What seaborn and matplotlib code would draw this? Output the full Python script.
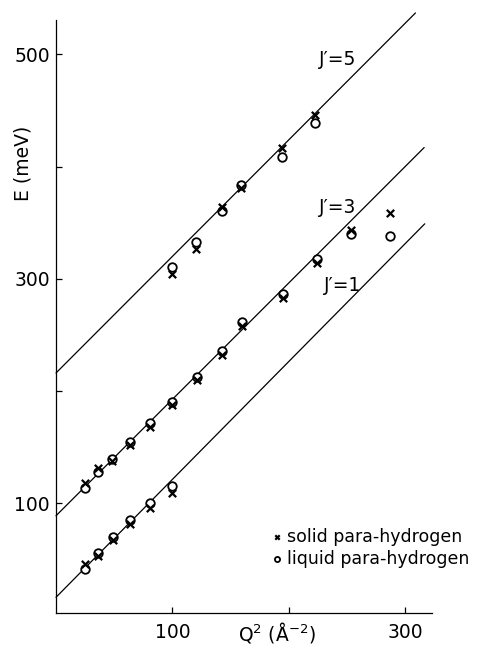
import matplotlib
matplotlib.use("Agg")
import matplotlib.pyplot as plt
import pandas as pd
import seaborn as sns

# Q^2 (A^-2) and E (meV)
q2_j1 = [25, 36, 49, 64, 81, 100]
e_j1_solid = [45.8, 52.5, 66.8, 81.6, 95.6, 109.4]
e_j1_liquid = [41.6, 55.6, 69.8, 85.2, 100.0, 115.4]

q2_j3 = [25, 36, 48.5, 63.5, 81, 100, 121, 143, 159.5, 195, 224, 254, 287]
e_j3_solid = [117.8, 131, 137.8, 151.8, 168, 187.4, 209.6, 232.4, 257.6, 282.8, 313.9, 343.6, 358.3]
e_j3_liquid = [113.3, 128, 139, 154.8, 171, 190, 212.5, 235.7, 261.4, 286.7, 317.2, 340, 338.5]

q2_j5 = [100, 120, 143, 159, 194, 223]
e_j5_solid = [304.4, 326.7, 363.6, 380.9, 416.4, 446]
e_j5_liquid = [310.3, 332.5, 360, 383.6, 408.7, 439.2]

# straight reference lines (end points)
line_q2 = {"1": [0, 317], "3": [0, 316.5], "5": [0, 309]}
line_e = {"1": [16, 349], "3": [88.7, 417], "5": [216, 537]}
label_pos = {"1": (246, 294), "3": (242.5, 363.6), "5": (242.5, 495.6)}

frames = []
for lvl, q, es, el in [("1", q2_j1, e_j1_solid, e_j1_liquid),
                       ("3", q2_j3, e_j3_solid, e_j3_liquid),
                       ("5", q2_j5, e_j5_solid, e_j5_liquid)]:
    frames.append(pd.DataFrame({"Q2": q, "E": es, "phase": "solid para-hydrogen", "J": lvl}))
    frames.append(pd.DataFrame({"Q2": q, "E": el, "phase": "liquid para-hydrogen", "J": lvl}))
df = pd.concat(frames, ignore_index=True)

sns.set_style("ticks", {"axes.edgecolor": "black", "text.color": "black",
                        "axes.labelcolor": "black", "xtick.color": "black",
                        "ytick.color": "black"})
plt.rcParams["font.family"] = ["DejaVu Sans"]
plt.rcParams["mathtext.fontset"] = "dejavusans"

fig = plt.figure(figsize=(4.87, 6.45), dpi=100)
ax = fig.add_axes([0.115, 0.0496, 0.7715, 0.919])

for lvl in ["1", "3", "5"]:
    sns.lineplot(x=line_q2[lvl], y=line_e[lvl], ax=ax, color="black", lw=0.9,
                 clip_on=False, zorder=1)
    ax.text(*label_pos[lvl], f"J\u2032=" + lvl, fontsize=13.5, ha="center", va="center")

liq = df[df["phase"] == "liquid para-hydrogen"]
sol = df[df["phase"] == "solid para-hydrogen"]
sns.scatterplot(data=liq, x="Q2", y="E", ax=ax, marker="o", s=38, facecolor="white",
                edgecolor="black", linewidth=1.3, label="liquid para-hydrogen", zorder=2)
sns.scatterplot(data=sol, x="Q2", y="E", ax=ax, marker="x", s=28, color="black",
                linewidth=1.6, label="solid para-hydrogen", zorder=3)

ax.set_xlim(0, 323)
ax.set_ylim(2, 530.5)
ax.set_xticks([100, 200, 300])
ax.set_xticklabels(["100", "", "300"])
ax.set_yticks([100, 200, 300, 400, 500])
ax.set_yticklabels(["100", "", "300", "", "500"])
ax.tick_params(direction="in", length=4.5, width=0.9, labelsize=13.5)
ax.tick_params(axis="y", pad=4.5)
ax.tick_params(axis="x", pad=7)
sns.despine(ax=ax)
for sp in ["left", "bottom"]:
    ax.spines[sp].set_linewidth(0.9)

ax.set_xlabel(r"Q$^2$ (Å$^{-2}$)", fontsize=13.5)
ax.xaxis.set_label_coords(0.588, -0.012)
ax.set_ylabel("E (meV)", fontsize=13.5)
ax.yaxis.set_label_coords(-0.062, 0.759)

handles, labels = ax.get_legend_handles_labels()
order = [labels.index("solid para-hydrogen"), labels.index("liquid para-hydrogen")]
leg = ax.legend([handles[i] for i in order], [labels[i] for i in order],
                loc="center left", bbox_to_anchor=(0.55, 0.11), frameon=False,
                fontsize=12.5, handlelength=0.6, handletextpad=0.3,
                labelspacing=0.25, borderpad=0, markerscale=0.6)

fig.savefig("out.png", dpi=100)
